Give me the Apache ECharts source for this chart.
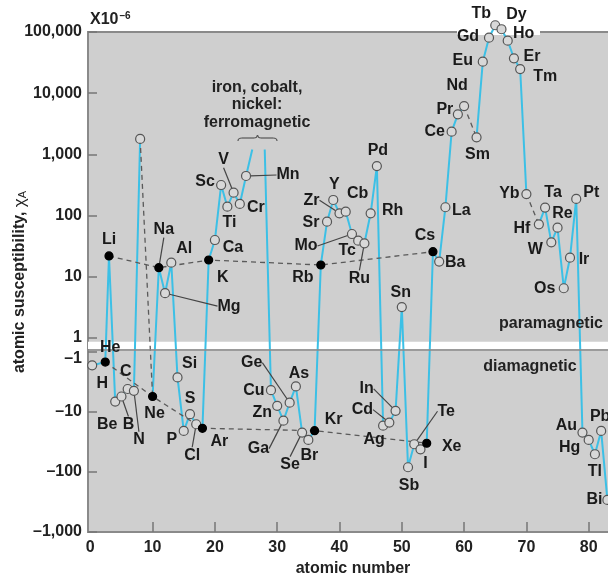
<!DOCTYPE html>
<html>
<head>
<meta charset="utf-8">
<script src="https://cdn.jsdelivr.net/npm/echarts@6.0.0/dist/echarts.min.js"></script>
<style>
html,body{margin:0;padding:0;background:#fff;}
#chart{width:608px;height:579px;}
</style>
</head>
<body>
<div id="chart"></div>
<script>
// ---------------- data ----------------
const elements = ['H','He','Li','Be','B','C','N','O','F','Ne','Na','Mg','Al','Si','P','S','Cl','Ar','K','Ca','Sc','Ti','V','Cr','Mn','Fe','Co','Ni','Cu','Zn','Ga','Ge','As','Se','Br','Kr','Rb','Sr','Y','Zr','Cb','Mo','Tc','Ru','Rh','Pd','Ag','Cd','In','Sn','Sb','Te','I','Xe','Cs','Ba','La','Ce','Pr','Nd','Pm','Sm','Eu','Gd','Tb','Dy','Ho','Er','Tm','Yb','Lu','Hf','Ta','W','Re','Os','Ir','Pt','Au','Hg','Tl','Pb','Bi'];
// atomic number as drawn (H and He are drawn slightly offset in the original)
const atomicNumbers = [0.3,2.4,3,4,5,6,7,8,9,10,11,12,13,14,15,16,17,18,19,20,21,22,23,24,25,26,27,28,29,30,31,32,33,34,35,36,37,38,39,40,41,42,43,44,45,46,47,48,49,50,51,52,53,54,55,56,57,58,59,60,61,62,63,64,65,66,67,68,69,70,71,72,73,74,75,76,77,78,79,80,81,82,83];
// atomic susceptibility, units of 1e-6 (null = not plotted)
const susceptibility = [-1.7,-1.5,21.9,-6.8,-5.6,-4.2,-4.5,1790,null,-5.6,14.1,5.4,17.0,-2.7,-20.9,-11.0,-16.2,-18.9,18.8,39.9,316,140,237,155,444,null,null,null,-4.4,-8.0,-14.1,-7.1,-3.8,-22.3,-29.5,-20.7,15.6,79.6,180,109,116,50,38.9,35.3,109,645,-17.1,-15.2,-9.7,3.2,-84,-34.8,-42.2,-33.5,25.7,17.7,137,2350,4520,6170,null,1900,32700,80700,129000,111000,72100,37200,24800,225,null,72,135,36.6,63.4,6.5,20.5,187,-22.3,-29.5,-51,-20.9,-293];
const alkaliMetals = ['Li','Na','K','Rb','Cs'];
const nobleGases = ['He','Ne','Ar','Kr','Xe'];
const ferromagnetic = ['Fe','Co','Ni'];
const ferroLineTop = 1200;          // value where the ferromagnetic lines are cut off
const dashedBridges = [['O','Ne'],['Nd','Sm'],['Yb','Hf']];
const yTickValues = [100000,10000,1000,100,10,1,-1,-10,-100,-1000];
const yTickLabels = ['100,000','10,000','1,000','100','10','1','\u20131','\u201310','\u2013100','\u20131,000'];
const xTickValues = [0,10,20,30,40,50,60,70,80];

// ---------------- label placement (style) ----------------
const labelOffsets = {
 H:[10,18], He:[5,-15], Li:[0,-16], Be:[-8,23], B:[7,28,1], C:[-2,-17], N:[5,49,1], Ne:[2,17],
 Na:[5,-38,1], Mg:[64,13,1], Al:[13,-14], Si:[12,-14], P:[-12,9], S:[0,-16], Cl:[-4,31,1], Ar:[17,13],
 K:[14,18], Ca:[18,8], Sc:[-16,-3], Ti:[2,16], V:[-10,-33,1], Cr:[16,4], Mn:[42,-1,1], Cu:[-17,0],
 Zn:[-15,7], Ga:[-25,28,1], Ge:[-38,-40,1], As:[3,-13], Se:[-12,32,1], Br:[1,16], Kr:[19,-11],
 Rb:[-18,13], Sr:[-16,1], Y:[1,-15], Zr:[-28,-13,1], Cb:[12,-18], Mo:[-46,12,1], Tc:[-11,10],
 Ru:[-5,35,1], Rh:[22,-3], Pd:[1,-15], Ag:[-9,14], Cd:[-27,-13,1], In:[-29,-22,1], Sn:[-1,-14],
 Sb:[1,18], Te:[32,-33,1], I:[5,14], Xe:[25,3], Cs:[-8,-16], Ba:[16,1], La:[16,3], Ce:[-17,0],
 Pr:[-13,-5], Nd:[-7,-20], Sm:[1,17], Eu:[-20,-1], Gd:[-21,-1], Tb:[-14,-12], Dy:[15,-15],
 Ho:[16,-7], Er:[18,-2], Tm:[25,8], Yb:[-17,0], Hf:[-17,4], Ta:[8,-15], W:[-16,7], Re:[5,-14],
 Os:[-19,0], Ir:[14,2], Pt:[15,-6], Au:[-16,-7], Hg:[-19,8], Tl:[0,17], Pb:[-1,-14], Bi:[-13,0]
};

// ---------------- split log scale ----------------
const GAP = 0.2206, K = 0.983;
function t(v){ return v > 0 ? Math.log10(v) : -(GAP + K*Math.log10(-v)); }
const tMax = 5, tMin = 5 - 500/61.2;
const idx = n => elements.indexOf(n);
const pt = i => [atomicNumbers[i], t(susceptibility[i])];

const lineData = elements.map((n,i) => {
  if (ferromagnetic.includes(n)) return n === 'Co' ? [atomicNumbers[i], '-'] : [atomicNumbers[i], t(ferroLineTop)];
  return susceptibility[i] == null ? [atomicNumbers[i], '-'] : pt(i);
});

const scatterData = [];
elements.forEach((n,i) => {
  if (susceptibility[i] == null) return;
  const filled = alkaliMetals.includes(n) || nobleGases.includes(n);
  const o = labelOffsets[n];
  const item = { name:n, value: pt(i) };
  if (filled) { item.itemStyle = {color:'#000', borderColor:'#000'}; item.symbolSize = 8; }
  if (!o) item.label = {show:false};
  if (o && o[2]) item.labelLine = {show:true};
  scatterData.push(item);
});

const FONT = "'Liberation Sans', Arial, Helvetica, sans-serif";
const BFONT = "bold 16px 'Liberation Sans', Arial, sans-serif";
const FS = 16;
const dashStyle = {color:'#5a5a5a', width:1.3, type:[5,4]};
const dashedSeries = [alkaliMetals, nobleGases].concat(dashedBridges).map(list => ({
  type:'line', z:4, silent:true, symbol:'none', clip:false,
  lineStyle: dashStyle,
  data: list.map(n => pt(idx(n)))
}));

const braceStyle = {stroke:'#555', fill:'none', lineWidth:1.2};
const chart = echarts.init(document.getElementById('chart'), null, {renderer:'canvas'});
const option = {
  animation:false,
  backgroundColor:'#fff',
  textStyle:{fontFamily:FONT},
  grid:{left:88, right:-2, top:32, bottom:47, show:true, backgroundColor:'#cfcfcf',
        borderColor:'#8a8a8a', borderWidth:2, containLabel:false, outerBoundsMode:'none'},
  xAxis:{
    type:'value', min:-0.369, max:83.42,
    axisLine:{show:false, onZero:false}, splitLine:{show:false},
    axisTick:{show:true, inside:true, length:10, customValues:xTickValues.slice(1), lineStyle:{color:'#777', width:1.5}},
    axisLabel:{customValues:xTickValues, margin:8, fontSize:FS, fontWeight:'bold', color:'#222', fontFamily:FONT,
               formatter:v => String(Math.round(v))}
  },
  yAxis:{
    type:'value', min:tMin, max:tMax,
    axisLine:{show:false, onZero:false}, splitLine:{show:false},
    axisTick:{show:true, inside:true, length:9, customValues:yTickValues.map(t), lineStyle:{color:'#777', width:1.5}},
    axisLabel:{customValues:yTickValues.map(t), margin:6, fontSize:FS, fontWeight:'bold', color:'#222', fontFamily:FONT,
      rich:{low:{fontSize:FS, fontWeight:'bold', color:'#222', fontFamily:FONT, padding:[14,0,0,0]}},
      formatter:v => { let b=0; yTickValues.forEach((y,i)=>{ if (Math.abs(t(y)-v) < Math.abs(t(yTickValues[b])-v)) b=i; });
        return yTickValues[b] === -1 ? '{low|' + yTickLabels[b] + '}' : yTickLabels[b]; }}
  },
  graphic:[
    {type:'rect', z:1, silent:true, shape:{x:457, y:29, width:83, height:6}, style:{fill:'#fff'}},
    {type:'text', z:10, x:90, y:20, style:{text:'{a|X10}{b|\u20136}', fill:'#222', textVerticalAlign:'middle',
      rich:{a:{fontSize:FS, fontWeight:'bold', fontFamily:FONT, color:'#222'},
            b:{fontSize:10, fontWeight:'bold', fontFamily:FONT, verticalAlign:'top', color:'#222', padding:[0,0,8,1]}}}},
    {type:'text', z:10, x:20, y:282, rotation:Math.PI/2, style:{text:'atomic susceptibility, {c|\u03c7}{s|A}', fill:'#222',
      font:BFONT, textAlign:'center', textVerticalAlign:'middle',
      rich:{c:{fontSize:17, fontFamily:FONT, color:'#222'}, s:{fontSize:11, fontFamily:FONT, color:'#222', verticalAlign:'bottom', padding:[6,0,0,0]}}}},
    {type:'text', z:10, x:353, y:569, style:{text:'atomic number', fill:'#222', font:BFONT, textAlign:'center', textVerticalAlign:'middle'}},
    {type:'text', z:10, x:257, y:105, style:{text:'iron, cobalt,\nnickel:\nferromagnetic', fill:'#222',
      font:BFONT, textAlign:'center', textVerticalAlign:'middle', lineHeight:17.7}},
    {type:'bezierCurve', z:10, shape:{x1:238,y1:141,x2:242,y2:138,cpx1:238,cpy1:138}, style:braceStyle},
    {type:'line', z:10, shape:{x1:242,y1:138,x2:254,y2:138}, style:braceStyle},
    {type:'bezierCurve', z:10, shape:{x1:254,y1:138,x2:257.5,y2:135,cpx1:257,cpy1:138}, style:braceStyle},
    {type:'bezierCurve', z:10, shape:{x1:257.5,y1:135,x2:261,y2:138,cpx1:258,cpy1:138}, style:braceStyle},
    {type:'line', z:10, shape:{x1:261,y1:138,x2:273,y2:138}, style:braceStyle},
    {type:'bezierCurve', z:10, shape:{x1:273,y1:138,x2:277,y2:141,cpx1:277,cpy1:138}, style:braceStyle},
    {type:'text', z:10, x:603, y:324, style:{text:'paramagnetic', fill:'#222', font:BFONT, textAlign:'right', textVerticalAlign:'middle'}},
    {type:'text', z:10, x:530, y:367, style:{text:'diamagnetic', fill:'#222', font:BFONT, textAlign:'center', textVerticalAlign:'middle'}}
  ],
  series:[
    {type:'line', z:2, silent:true, symbol:'none', clip:false, connectNulls:false,
     lineStyle:{color:'#3cc0e6', width:2}, data:lineData},
    {type:'line', z:3, silent:true, symbol:'none', data:[],
     markArea:{silent:true, itemStyle:{color:'#fff', borderWidth:0},
       data:[[{yAxis:-0.06, xAxis:-0.369},{yAxis:-0.18, xAxis:83.42}]]},
     markLine:{silent:true, symbol:'none', label:{show:false}, lineStyle:{color:'#8a8a8a', width:1.5, type:'solid'},
       data:[{yAxis:-0.195}]}},
    ...dashedSeries,
    {type:'scatter', z:5, clip:false, symbol:'circle', symbolSize:9,
     itemStyle:{color:'#d8d8d8', borderColor:'#555', borderWidth:1.2, opacity:1},
     label:{show:true, position:'inside', formatter:'{b}', fontSize:FS, fontWeight:'bold', color:'#1a1a1a', fontFamily:FONT},
     labelLine:{show:false, lineStyle:{color:'#444', width:1.2}},
     labelLayout: p => { const d = scatterData[p.dataIndex]; const o = labelOffsets[d.name] || [0,0]; return {dx:o[0], dy:o[1]}; },
     data:scatterData}
  ]
};
chart.setOption(option);
</script>
</body>
</html>
